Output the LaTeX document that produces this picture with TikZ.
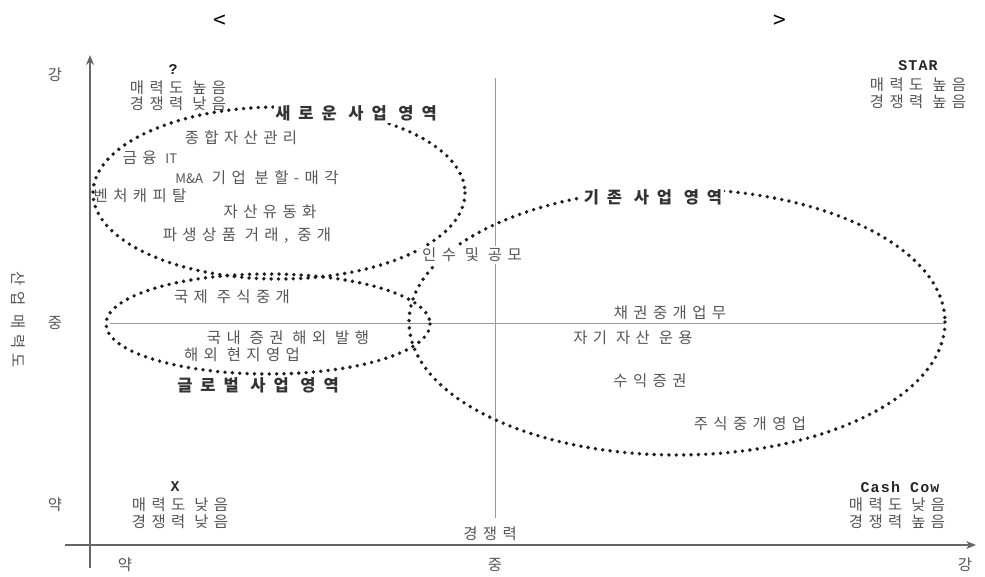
\documentclass[tikz,border=0pt]{standalone}
\usepackage{fontspec}
\usetikzlibrary{arrows.meta}
\setmainfont{Noto Sans CJK KR}[LetterSpace=35]
\newfontfamily\tagfont{Liberation Mono}[LetterSpace=8]
\newcommand\latin[1]{{\addfontfeature{LetterSpace=0}\fontsize{7.5}{8}\selectfont #1}}
\definecolor{txtgray}{RGB}{85,85,85}
\definecolor{dotink}{RGB}{30,30,30}

\tikzset{
  lbl/.style={font=\fontsize{8.8}{9}\selectfont, text=txtgray, inner sep=0pt},
  head/.style={font=\fontsize{9.4}{9}\selectfont\bfseries\addfontfeature{LetterSpace=48}, text=black!80, inner sep=0pt},
  tag/.style={font=\tagfont\fontsize{8.5}{9}\selectfont\bfseries, text=black!85, inner sep=0pt},
  zone/.style={draw=dotink, line width=2.2pt, line cap=round, dash pattern=on 0pt off 4.2pt},
  axis/.style={draw=black!60, line width=0.8pt},
  midline/.style={draw=black!40, line width=0.4pt}
}

\begin{document}
\begin{tikzpicture}[x=0.02cm,y=-0.02cm,>={Stealth[length=2mm,width=1.6mm]}]
  \useasboundingbox (0,0) rectangle (985,577);
  % axes
  \coordinate (yb) at (90,568);
  \coordinate (yt) at (90,55);
  \coordinate (xl) at (65,545);
  \coordinate (xr) at (976,545);
  \draw[axis,->] (yb) -- (yt);
  \draw[axis,->] (xl) -- (xr);
  \coordinate (vt) at (495,78);
  \coordinate (vb) at (495,518);
  \coordinate (hl) at (110,323);
  \coordinate (hr) at (945,323);
  \draw[midline] (vt) -- (vb);
  \draw[midline] (hl) -- (hr);

  % title brackets
  \node[font=\fontsize{13}{14}\selectfont] (tl) at (220,22) {<};
  \node[font=\fontsize{13}{14}\selectfont] (tr) at (780,22) {>};

  % axis labels
  \node[lbl] (ystrong) at (55,75) {강};
  \node[lbl] (ymid) at (55,323) {중};
  \node[lbl] (yweak) at (55,505) {약};
  \node[lbl,rotate=-90] (ytitle) at (18,320) {산업 매력도};
  \node[lbl] (xweak) at (125,565) {약};
  \node[lbl] (xmid) at (495,565) {중};
  \node[lbl] (xstrong) at (965,565) {강};
  \node[lbl] (xtitle) at (490,534) {경쟁력};

  % quadrant tags
  \node[tag] (qmark) at (173,70) {?};
  \node[lbl] (q1a) at (178,88) {매력도 높음};
  \node[lbl] (q1b) at (178,104) {경쟁력 낮음};
  \node[tag] (star) at (918,66) {STAR};
  \node[lbl] (q2a) at (918,85) {매력도 높음};
  \node[lbl] (q2b) at (918,102) {경쟁력 높음};
  \node[tag] (dog) at (175,487) {X};
  \node[lbl] (q3a) at (180,505) {매력도 낮음};
  \node[lbl] (q3b) at (180,522) {경쟁력 낮음};
  \node[tag] (cow) at (900,487) {Cash Cow};
  \node[lbl] (q4a) at (897,505) {매력도 낮음};
  \node[lbl] (q4b) at (897,522) {경쟁력 높음};

  % business zones
  \draw[zone] (279,193) ellipse [x radius=186, y radius=86];
  \draw[zone] (268,324) ellipse [x radius=162, y radius=50];
  \draw[zone] (677,322) ellipse [x radius=268, y radius=133];

  % new business
  \node[head,fill=white,inner sep=1pt] (newarea) at (356,113) {새로운 사업 영역};
  \node[lbl] (wealth) at (241,138) {종합자산관리};
  \node[lbl] (finit) at (150,158) {금융 \latin{IT}};
  \node[lbl] (mna) at (257,178) {\latin{M\&A} 기업 분할-매각};
  \node[lbl] (venture) at (140,196) {벤처캐피탈};
  \node[lbl] (abs) at (270,212) {자산유동화};
  \node[lbl] (deriv) at (247,236) {파생상품 거래, 중개};

  % global business
  \node[lbl] (intlbroker) at (232,297) {국제 주식중개};
  \node[lbl] (overseas) at (288,338) {국내 증권 해외 발행};
  \node[lbl] (local) at (242,355) {해외 현지영업};
  \node[head] (globalarea) at (258,385) {글로벌 사업 영역};

  % existing business
  \node[head,fill=white,inner sep=1pt] (oldarea) at (653,197) {기존 사업 영역};
  \node[lbl,fill=white,inner sep=1pt] (ipo) at (472,255) {인수 및 공모};
  \node[lbl] (bond) at (670,313) {채권중개업무};
  \node[lbl] (prop) at (633,338) {자기 자산 운용};
  \node[lbl] (fund) at (650,381) {수익증권};
  \node[lbl,fill=white,inner sep=1pt] (equity) at (750,424) {주식중개영업};
\end{tikzpicture}
\end{document}
